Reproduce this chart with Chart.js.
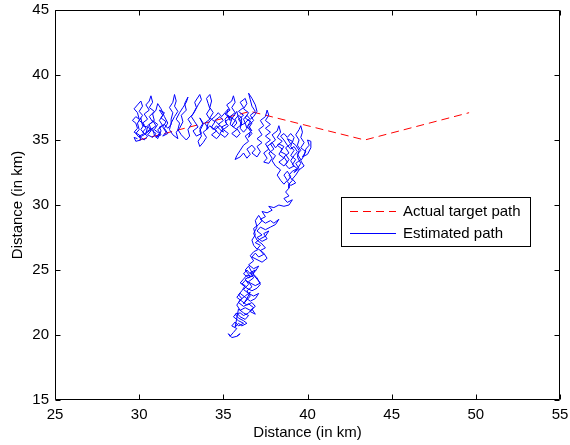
<!DOCTYPE html>
<html>
<head>
<meta charset="utf-8">
<script src="https://cdn.jsdelivr.net/npm/chart.js@4/dist/chart.umd.min.js"></script>
<style>
  html, body { margin: 0; padding: 0; background: #ffffff; }
  #wrap { width: 570px; height: 445px; }
</style>
</head>
<body>
<div id="wrap"><canvas id="c" width="570" height="445"></canvas></div>
<script>
// Axis tick values
const xTicks = [25, 30, 35, 40, 45, 50, 55];
const yTicks = [15, 20, 25, 30, 35, 40, 45];

// Actual target path (waypoints, km)
const actualX = [30.0, 36.6, 43.4, 49.6];
const actualY = [35.0, 37.2, 35.0, 37.1];

// Estimated path, piece by piece ([x, y] in km)
const estWest = [
  [29.9,35.1],[29.7,35.2],[29.8,34.9],[30.1,35.0],[30.0,35.4],[29.7,35.6],[29.9,35.9],[29.8,36.3],[29.6,36.5],[29.8,36.8],
  [30.0,36.6],[29.9,37.1],[29.7,37.4],[29.9,37.7],[30.1,38.0],[30.2,37.6],[30.0,37.2],[30.2,36.9],[30.0,36.5],[30.3,36.2],
  [30.1,35.8],[30.3,35.5],[30.0,35.3],[30.3,35.0],[30.5,35.3],[30.2,35.6],[30.4,35.9],[30.2,36.3],[30.5,36.6],[30.3,37.0],
  [30.6,37.3],[30.4,37.7],[30.6,38.0],[30.7,38.4],[30.8,37.9],[30.6,37.5],[30.9,37.2],[30.6,36.8],[30.8,36.4],[30.5,36.1],
  [30.7,35.7],[30.5,35.4],[30.8,35.2],[31.0,35.5],[30.7,35.8],[31.0,36.1],[30.8,36.5],[31.1,36.2],[30.9,35.8],[31.2,35.5],
  [31.0,35.2],[31.3,35.4],[31.1,35.8],[31.4,36.1],[31.2,36.5],[31.4,36.9],[31.2,37.3],[31.5,37.1],[31.3,36.7],[31.6,36.4],
  [31.4,36.0],[31.6,35.6],[31.4,35.3],[31.7,35.5],[31.5,35.9],[31.7,36.3]
];
const estWestReturn = [
  [31.5,36.8],[31.3,37.4],[31.1,37.8],[31.0,37.3],[30.8,37.0],[30.9,36.5],[30.6,36.2],[30.7,35.8],[30.4,35.5],[30.5,36.0],
  [30.2,36.1],[30.1,36.7],[29.9,36.3],[30.0,35.8],[29.8,35.5],[30.0,35.2],[30.3,35.4],[30.5,35.7],[30.8,35.9],[30.9,35.4],
  [31.1,35.1],[31.3,35.7],[31.2,36.0],[31.5,36.2],[31.7,35.9],[31.9,36.2]
];
const estWestCentre = [
  [31.9,36.6],[32.0,37.1],[31.8,37.5],[32.0,37.9],[32.1,38.5],[32.2,38.0],[32.1,37.6],[32.3,37.2],[32.1,36.8],[31.9,36.3],
  [31.8,35.8],[32.0,35.4],[32.3,35.1],[32.2,35.6],[32.4,35.9],[32.6,36.4],[32.5,36.9],[32.8,37.3],[32.7,37.8],[32.9,38.3],
  [32.8,37.9],[32.6,37.5],[32.4,37.1],[32.2,36.6],[32.4,36.3],[32.3,35.8],[32.5,35.4],[32.8,35.0],[33.0,35.3],[32.9,35.8],
  [33.1,36.2],[32.9,36.6],[33.2,37.0],[33.4,37.5],[33.3,37.9],[33.6,38.5],[33.7,38.1],[33.5,37.7],[33.3,37.2],[33.1,36.8],
  [33.3,36.4],[33.5,36.0],[33.2,35.7],[33.4,35.3],[33.7,35.5],[33.6,35.9],[33.8,36.3],[33.6,36.7],[33.8,36.2],[33.6,35.7],
  [33.7,35.3]
];
const estCentre = [
  [33.5,34.9],[33.6,34.5],[33.8,34.8],[34.0,35.2],[33.8,35.6],[34.1,35.9],[33.9,36.3],[34.2,36.6],[34.0,37.0],[34.2,37.4],
  [34.1,37.8],[34.0,38.2],[34.2,38.5],[34.3,38.0],[34.2,37.5],[34.4,37.1],[34.2,36.7],[34.5,36.4],[34.3,36.0],[34.6,35.7],
  [34.3,35.4],[34.6,35.1],[34.8,35.4],[34.5,35.8],[34.8,36.1],[34.5,36.5],[34.8,36.8],[35.0,36.5],[34.7,36.2],[35.0,35.9],
  [34.8,35.5],[35.1,35.2],[35.3,35.5],[35.0,35.8],[35.3,36.1],[35.1,36.4],[35.4,36.7],[35.1,37.0],[35.4,37.3],[35.2,37.7],
  [35.5,38.0],[35.6,38.4],[35.7,37.9],[35.5,37.5],[35.7,37.1],[35.4,36.8],[35.7,36.5],[35.5,36.1],[35.8,35.8],[35.5,35.5],
  [35.8,35.2],[36.0,35.5],[35.8,35.9],[36.1,36.2],[35.9,36.6],[36.2,36.9],[35.9,37.2],[36.2,37.5],[36.0,37.9],[36.3,38.2],
  [36.4,37.8],[36.2,37.4],[36.5,37.1],[36.3,36.7],[36.6,36.4],[36.4,36.0],[36.7,35.7],[36.5,36.1],[36.8,36.5],[36.6,36.9],
  [36.9,37.2],[36.7,37.6],[36.6,38.1],[36.5,38.6],[36.7,38.2],[36.9,37.7],[37.0,37.2],[36.8,36.8]
];
const estCentreKnot = [
  [36.6,36.6],[36.4,36.9],[36.2,36.6],[36.3,36.3],[36.0,36.1],[36.1,36.7],[35.9,36.9],[35.7,36.6],[35.8,36.3],[35.6,36.0],
  [35.4,36.2],[35.5,36.6],[35.3,36.9],[35.1,36.6],[35.2,36.2],[34.9,36.0],[35.0,35.6],[34.8,35.8],[34.6,36.1],[34.4,35.8],
  [34.2,36.1],[34.0,35.8],[34.1,36.3],[34.3,36.6],[34.5,36.8],[34.7,37.1],[34.9,36.8],[35.1,37.1],[35.3,37.4],[35.2,37.0],
  [35.4,36.5],[35.6,36.8],[35.8,37.2],[35.9,36.7],[36.1,36.4],[36.0,35.9],[36.2,35.6],[36.4,35.9],[36.3,36.3],[36.5,36.6],
  [36.7,36.3],[36.5,35.9],[36.7,35.5],[36.5,35.2]
];
const estEastCentre = [
  [36.6,35.6],[36.3,35.3],[36.5,34.9],[36.2,34.6],[36.0,34.2],[35.8,33.8],[35.7,33.5],[36.0,33.7],[36.2,34.0],[36.4,33.6],
  [36.6,33.9],[36.4,34.3],[36.7,34.6],[36.9,34.3],[36.7,34.0],[37.0,33.7],[37.2,34.1],[37.0,34.5],[37.3,34.8],[37.0,35.1],
  [37.3,35.4],[37.1,35.8],[37.4,36.1],[37.2,36.5],[37.5,36.8],[37.6,37.3],[37.7,36.9],[37.5,36.5],[37.8,36.2],[37.5,35.9],
  [37.8,35.6],[37.5,35.3],[37.8,35.0],[37.5,34.7],[37.7,34.3],[37.4,34.0],[37.6,33.6],[37.4,33.3],[37.7,33.2],[37.9,33.6],
  [37.7,34.0],[38.0,34.3],[37.8,34.7],[38.1,35.0],[37.9,35.4],[38.2,35.7],[38.3,36.1],[38.4,35.6],[38.2,35.2],[38.5,34.9],
  [38.2,34.6],[38.5,34.3],[38.3,33.9],[38.6,33.6],[38.3,33.3],[38.6,33.0]
];
const estEast = [
  [38.8,33.3],[38.6,33.7],[38.9,34.0],[38.7,34.4],[39.0,34.7],[38.8,35.1],[39.1,34.9],[39.0,34.5],[39.2,34.2],[39.0,33.8],
  [39.3,33.5],[39.1,33.1],[39.4,32.8],[39.2,32.5],[39.5,32.8],[39.3,33.2],[39.6,33.5],[39.4,33.9],[39.6,34.2],[39.4,34.6],
  [39.5,35.0],[39.3,35.4],[39.5,35.8],[39.6,36.1],[39.7,35.6],[39.6,35.2],[39.8,34.8],[39.6,34.4],[39.9,34.1],[39.7,33.7],
  [40.0,33.9],[40.2,34.4],[40.2,34.9],[40.0,35.0],[40.1,34.6],[39.9,34.3],[39.8,33.8],[39.6,33.4],[39.8,33.0],[39.5,32.7],
  [39.3,32.3],[39.1,32.0],[39.3,31.7],[39.0,31.5],[38.8,31.8],[39.0,32.2],[38.8,32.6],[38.6,32.3],[38.8,31.9],[38.6,31.6]
];
const estEastKnot = [
  [38.4,31.9],[38.2,32.3],[38.4,32.7],[38.1,33.0],[37.9,33.4],[38.1,33.8],[37.8,34.1],[37.6,34.5],[37.9,34.8],[38.1,34.4],
  [38.3,34.7],[38.6,34.5],[38.4,34.1],[38.7,33.9],[38.9,33.5],[38.7,33.1],[38.9,32.8],[39.2,33.0],[39.0,33.4],[39.2,33.8],
  [39.4,34.1],[39.2,34.5],[39.0,34.3],[38.8,34.6],[38.6,35.0],[38.4,35.3],[38.6,35.5],[38.8,35.2],[39.0,35.5],[39.2,35.2],
  [39.1,34.8],[39.3,34.6],[39.5,34.2],[39.4,33.7],[39.6,33.2],[39.4,32.8],[39.1,32.6],[38.9,32.3],[39.1,31.9],[38.9,31.6]
];
const estTurn = [
  [38.9,31.3],[38.7,31.0],[38.9,30.7],[38.6,30.5],[38.8,30.2],[39.1,30.4],[38.9,30.0],[38.6,29.9],[38.3,30.0],[38.0,29.8],
  [37.7,29.9],[37.9,29.6]
];
const estDescent = [
  [37.6,29.4],[37.3,29.5],[37.5,29.1],[37.2,28.9],[37.5,28.6],[37.8,28.8],[38.0,28.6],[38.3,28.9],[38.1,28.5],[37.8,28.3],
  [37.5,28.1],[37.2,28.3],[37.0,28.0],[37.3,27.7],[37.0,27.5],[37.3,27.2],[37.6,27.4],[37.4,27.8],[37.7,28.0],[37.5,27.6],
  [37.2,27.4],[36.9,27.1],[37.2,26.9],[37.0,26.6],[36.8,26.9],[36.7,27.3],[36.9,27.7],[36.8,28.2],[37.1,28.5],[37.3,28.8],
  [37.1,29.2],[36.9,28.8],[37.0,28.3],[36.8,27.8],[37.0,27.3],[37.3,27.0],[37.5,26.7],[37.2,26.5],[37.4,26.2],[37.1,26.0],
  [36.9,26.3],[36.7,26.0]
];
const estSouthUpper = [
  [37.0,25.8],[37.3,25.6],[37.6,25.9],[37.4,26.3],[37.1,26.6],[36.8,26.4],[36.6,26.1],[36.8,25.7],[36.5,25.4],[36.8,25.1],
  [37.1,25.3],[36.9,24.9],[36.6,24.7],[36.4,25.0],[36.2,24.7],[36.5,24.4],[36.8,24.6],[37.0,24.3],[37.2,24.0],[36.9,23.8],
  [36.6,24.0],[36.3,24.2],[36.1,23.9],[36.4,23.6],[36.7,23.4],[37.0,23.6],[37.2,23.9],[37.0,24.4],[36.7,24.8],[36.5,25.3],
  [36.3,25.0],[36.6,24.5],[36.3,24.3],[36.5,23.9],[36.2,23.5],[36.5,23.2],[36.8,23.0],[37.1,23.2],[36.9,22.8],[36.6,22.6],
  [36.3,22.9],[36.0,23.2],[35.8,22.9],[36.1,22.6],[36.4,22.3],[36.7,22.5],[36.9,22.2],[36.6,21.9],[36.3,22.1],[36.0,21.9],
  [35.8,22.3],[36.0,22.7],[36.3,23.0],[36.6,23.3],[36.4,22.8],[36.2,22.4]
];
const estSouthKnot = [
  [36.4,22.7],[36.6,23.0],[36.4,23.4],[36.7,23.7],[36.5,24.1],[36.8,24.4],[36.6,24.8],[36.9,25.0],[36.7,24.5],[36.4,24.6],
  [36.2,24.3],[36.0,24.0],[36.3,23.8],[36.1,23.4],[35.9,23.1],[36.1,22.8],[35.9,22.5],[36.2,22.2],[36.5,22.4],[36.8,22.1],
  [36.6,21.8],[36.9,21.6],[36.7,22.0],[36.5,21.7],[36.2,21.5],[36.0,21.7],[35.7,21.6],[35.9,21.3],[36.2,21.1],[36.4,20.9],
  [36.1,20.7],[35.9,20.9],[35.7,20.6]
];
const estSouthLower = [
  [35.9,22.0],[36.2,21.7],[36.5,21.5],[36.3,21.2],[36.0,21.4],[35.8,21.7],[35.6,21.4],[35.9,21.1],[36.2,20.9],[35.9,20.7],
  [35.7,21.0],[35.5,20.7],[35.8,20.5],[35.6,20.2],[35.4,19.9],[35.3,20.1],[35.5,19.8],[35.8,19.9],[36.0,20.1],[35.8,19.9]
];

const legendLabels = ['Actual target path', 'Estimated path'];
const lineColours = ['#ff0000', '#0000ff'];

const estPath = [].concat(
  estWest, estWestReturn, estWestCentre, estCentre, estCentreKnot, estEastCentre, estEast, estEastKnot,
  estTurn, estDescent, estSouthUpper, estSouthKnot, estSouthLower
).map(p => ({ x: p[0], y: p[1] }));
const actualPath = actualX.map((x, i) => ({ x: x, y: actualY[i] }));

const FONT = { family: '"Liberation Sans", Arial, Helvetica, sans-serif', size: 15 };

// Boxed frame with inward ticks on all four sides
const framePlugin = {
  id: 'frame',
  afterDatasetsDraw(chart) {
    const { ctx, chartArea: a, scales } = chart;
    const L = Math.round(a.left) + 0.5, R = Math.round(a.right) - 0.5;
    const T = Math.round(a.top) + 0.5, B = Math.round(a.bottom) - 0.5;
    const len = 5;
    ctx.save();
    ctx.strokeStyle = '#000000';
    ctx.lineWidth = 1;
    ctx.beginPath();
    ctx.rect(L, T, R - L, B - T);
    scales.x.ticks.forEach(t => {
      const px = Math.round(scales.x.getPixelForValue(t.value)) + 0.5;
      ctx.moveTo(px, B); ctx.lineTo(px, B - len);
      ctx.moveTo(px, T); ctx.lineTo(px, T + len);
    });
    scales.y.ticks.forEach(t => {
      const py = Math.round(scales.y.getPixelForValue(t.value)) + 0.5;
      ctx.moveTo(L, py); ctx.lineTo(L + len, py);
      ctx.moveTo(R, py); ctx.lineTo(R - len, py);
    });
    ctx.stroke();
    ctx.restore();
  }
};

// Legend box inside the plot, right of centre
const legendPlugin = {
  id: 'boxLegend',
  afterDraw(chart) {
    const { ctx } = chart;
    const bx = 341.5, by = 197.5, bw = 189, bh = 49;
    ctx.save();
    ctx.fillStyle = '#ffffff';
    ctx.fillRect(bx, by, bw, bh);
    ctx.strokeStyle = '#000000';
    ctx.lineWidth = 1;
    ctx.strokeRect(bx, by, bw, bh);
    const rows = [211.5, 233.5];
    chart.data.datasets.forEach((ds, i) => {
      ctx.beginPath();
      ctx.strokeStyle = lineColours[i];
      ctx.lineWidth = 1;
      ctx.setLineDash(ds.borderDash || []);
      ctx.moveTo(350, rows[i]);
      ctx.lineTo(396, rows[i]);
      ctx.stroke();
      ctx.setLineDash([]);
      ctx.fillStyle = '#000000';
      ctx.font = FONT.size + 'px ' + FONT.family;
      ctx.textBaseline = 'middle';
      ctx.textAlign = 'left';
      ctx.fillText(legendLabels[i], 403, rows[i] + 0.5);
    });
    ctx.restore();
  }
};

new Chart(document.getElementById('c'), {
  type: 'scatter',
  data: {
    datasets: [
      {
        label: legendLabels[0],
        data: actualPath,
        showLine: true,
        borderColor: lineColours[0],
        borderWidth: 1,
        borderDash: [8, 5],
        pointRadius: 0,
        fill: false,
        order: 1
      },
      {
        label: legendLabels[1],
        data: estPath,
        showLine: true,
        borderColor: lineColours[1],
        borderWidth: 1,
        borderJoinStyle: 'round',
        pointRadius: 0,
        fill: false,
        order: 0
      }
    ]
  },
  options: {
    responsive: false,
    animation: false,
    events: [],
    layout: { padding: { top: 10, right: 10, left: 0, bottom: 0 } },
    plugins: {
      legend: { display: false },
      tooltip: { enabled: false }
    },
    scales: {
      x: {
        type: 'linear',
        min: 25, max: 55,
        afterBuildTicks: s => { s.ticks = xTicks.map(v => ({ value: v })); },
        afterFit: s => { s.height = 45; s.paddingLeft = 0; s.paddingRight = 0; },
        grid: { display: false, drawTicks: false },
        border: { display: false },
        ticks: { color: '#000000', font: FONT, padding: 6, maxRotation: 0, autoSkip: false },
        title: { display: true, text: 'Distance (in km)', color: '#000000', font: FONT, padding: { top: 0, bottom: 3 } }
      },
      y: {
        type: 'linear',
        min: 15, max: 45,
        afterBuildTicks: s => { s.ticks = yTicks.map(v => ({ value: v })); },
        afterFit: s => { s.width = 55; s.paddingTop = 0; s.paddingBottom = 0; },
        grid: { display: false, drawTicks: false },
        border: { display: false },
        ticks: { color: '#000000', font: FONT, padding: 6, autoSkip: false },
        title: { display: true, text: 'Distance (in km)', color: '#000000', font: FONT, padding: { top: 9, bottom: 0 } }
      }
    }
  },
  plugins: [framePlugin, legendPlugin]
});
</script>
</body>
</html>
